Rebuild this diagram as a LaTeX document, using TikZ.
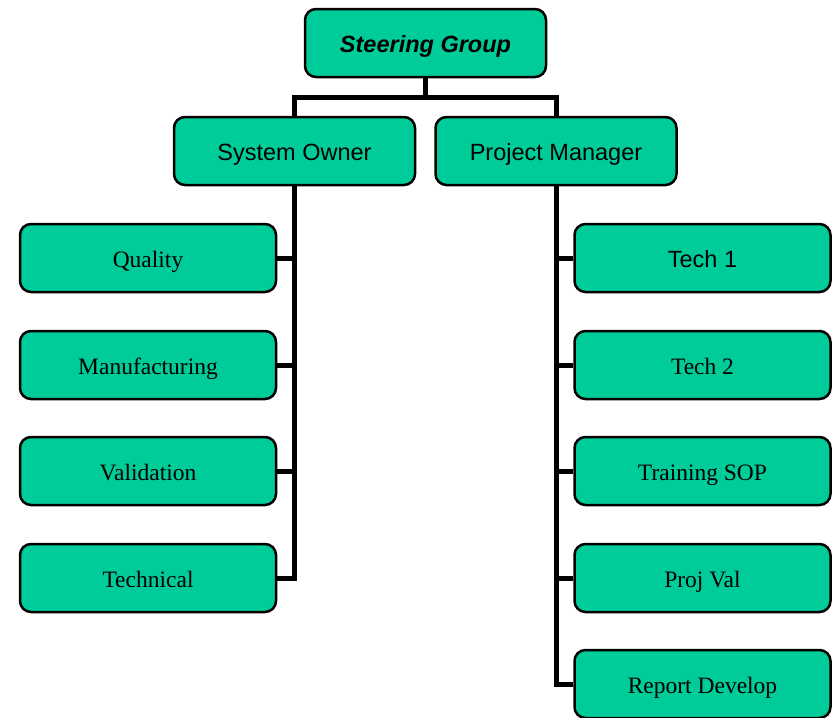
\documentclass[tikz,border=0pt]{standalone}
\usepackage{fontspec}
\setmainfont{Liberation Serif}
\setsansfont{Liberation Sans}
\definecolor{boxgreen}{RGB}{0,204,153}
\tikzstyle{box}=[draw=black,line width=2.5pt,fill=boxgreen,rounded corners=11pt,minimum height=68pt,minimum width=256pt,inner sep=0pt,text height=19pt,text depth=0pt,font=\fontsize{23.5}{28}\selectfont]
\tikzstyle{lead}=[box,minimum width=241pt,font=\sffamily\fontsize{23.5}{28}\selectfont]
\tikzstyle{link}=[line width=5pt]

\begin{document}
\begin{tikzpicture}[x=1pt,y=-1pt]
\useasboundingbox (0,0) rectangle (836,718);

\node[lead,font=\sffamily\bfseries\itshape\fontsize{23.5}{28}\selectfont] (sg) at (425.5, 43) {Steering Group};
\node[lead] (so) at (294.5, 151) {System Owner};
\node[lead] (pm) at (556, 151) {Project Manager};

\node[box] (q) at (148, 258) {Quality};
\node[box] (m) at (148, 365) {Manufacturing};
\node[box] (v) at (148, 471) {Validation};
\node[box] (t) at (148, 578) {Technical};

\node[box,font=\sffamily\fontsize{23.5}{28}\selectfont] (t1) at (702.5, 258) {Tech 1};
\node[box] (t2) at (702.5, 365) {Tech 2};
\node[box] (ts) at (702.5, 471) {Training SOP};
\node[box] (pv) at (702.5, 578) {Proj Val};
\node[box] (rd) at (702.5, 684) {Report Develop};

\draw[link] (sg.south) -- ++(0,19) -| (so.north);
\draw[link] (sg.south) -- ++(0,19) -| (pm.north);

\draw[link] (so.south) |- (q.east);
\draw[link] (so.south) |- (m.east);
\draw[link] (so.south) |- (v.east);
\draw[link] (so.south) |- (t.east);

\draw[link] (pm.south) |- (t1.west);
\draw[link] (pm.south) |- (t2.west);
\draw[link] (pm.south) |- (ts.west);
\draw[link] (pm.south) |- (pv.west);
\draw[link] (pm.south) |- (rd.west);

\end{tikzpicture}
\end{document}
